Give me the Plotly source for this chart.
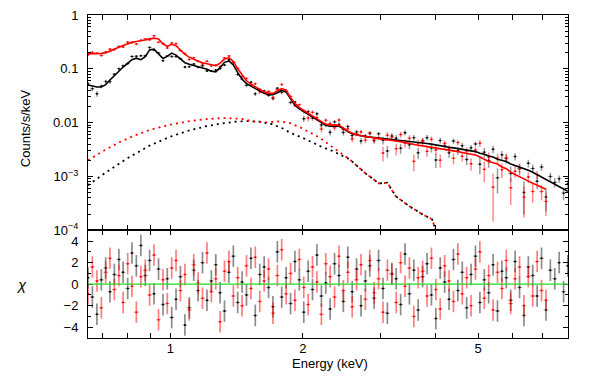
import numpy as np
import plotly.graph_objs as go
from plotly.subplots import make_subplots

# bin centres (keV), shared by both spectra (red stops earlier)
energy = [0.650, 0.665, 0.681, 0.697, 0.713, 0.729, 0.746, 0.764, 0.781, 0.800,
          0.818, 0.837, 0.857, 0.877, 0.897, 0.918, 0.940, 0.962, 0.984, 1.007,
          1.030, 1.054, 1.079, 1.104, 1.130, 1.156, 1.183, 1.211, 1.239, 1.268,
          1.297, 1.327, 1.358, 1.390, 1.422, 1.455, 1.489, 1.524, 1.559, 1.596,
          1.633, 1.671, 1.710, 1.750, 1.790, 1.832, 1.875, 1.918, 1.963, 2.009,
          2.056, 2.103, 2.152, 2.203, 2.254, 2.306, 2.360, 2.415, 2.471, 2.529,
          2.588, 2.648, 2.710, 2.773, 2.837, 2.903, 2.971, 3.040, 3.111, 3.184,
          3.258, 3.334, 3.411, 3.491, 3.572, 3.655, 3.740, 3.828, 3.917, 4.008,
          4.101, 4.197, 4.295, 4.395, 4.497, 4.602, 4.709, 4.819, 4.931, 5.046,
          5.164, 5.284, 5.407, 5.533, 5.662, 5.794, 5.929, 6.067, 6.209, 6.353,
          6.501, 6.653, 6.808, 6.966, 7.129, 7.295, 7.465, 7.639, 7.817, 7.990]

black_model = [0.050, 0.048, 0.046, 0.046, 0.051, 0.062, 0.076, 0.090, 0.108, 0.128,
               0.148, 0.158, 0.148, 0.168, 0.225, 0.232, 0.185, 0.155, 0.170, 0.196,
               0.180, 0.150, 0.130, 0.122, 0.116, 0.110, 0.105, 0.098, 0.090, 0.088,
               0.105, 0.132, 0.140, 0.118, 0.085, 0.064, 0.053, 0.048, 0.043, 0.039,
               0.035, 0.033, 0.033, 0.036, 0.040, 0.037, 0.027, 0.021, 0.018, 0.0160,
               0.0143, 0.0128, 0.0115, 0.0102, 0.0090, 0.0086, 0.0087, 0.0086, 0.0078, 0.0068,
               0.0062, 0.0059, 0.0057, 0.0055, 0.0054, 0.0053, 0.0051, 0.0050, 0.0050, 0.0049,
               0.0048, 0.0047, 0.0046, 0.0045, 0.0044, 0.0043, 0.0042, 0.0041, 0.0040, 0.0039,
               0.0038, 0.0036, 0.0035, 0.0034, 0.0033, 0.0032, 0.0031, 0.0030, 0.0029, 0.0027,
               0.0026, 0.0024, 0.0023, 0.0021, 0.0020, 0.0019, 0.0017, 0.0016, 0.0015, 0.0014,
               0.0013, 0.0012, 0.00108, 0.00098, 0.00088, 0.00078, 0.00070, 0.00063, 0.00058, 0.00053]

black_data = [0.0527, 0.0428, 0.0344, 0.0477, 0.0579, 0.0581, 0.0794, 0.1004, 0.1139, 0.1254,
              0.1695, 0.1714, 0.1746, 0.1747, 0.2498, 0.2226, 0.1967, 0.1417, 0.1738, 0.1687,
              0.1687, 0.1547, 0.1078, 0.1099, 0.1228, 0.1070, 0.1145, 0.0914, 0.0912, 0.0951,
              0.1012, 0.1172, 0.1469, 0.1318, 0.0785, 0.0646, 0.0493, 0.0561, 0.0343, 0.0415,
              0.0389, 0.0323, 0.0282, 0.0436, 0.0366, 0.0386, 0.0236, 0.0241, 0.0185, 0.01184,
              0.01602, 0.01216, 0.01461, 0.00908, 0.00909, 0.00662, 0.01035, 0.00929, 0.00655, 0.0085,
              0.00577, 0.00673, 0.00456, 0.00567, 0.00632, 0.00461, 0.00622, 0.0047, 0.00298, 0.00564,
              0.00516, 0.00336, 0.00653, 0.00389, 0.00526, 0.00275, 0.00464, 0.00527, 0.0034, 0.00203,
              0.00466, 0.00371, 0.00277, 0.00457, 0.003, 0.00373, 0.00208, 0.00341, 0.00403, 0.00169,
              0.00283, 0.00198, 0.00321, 0.000945, 0.00253, 0.00215, 0.00114, 0.00234, 0.0014, 0.000507,
              0.00176, 0.00141, 0.000819, 0.0015, 0.000415, 0.001, 0.000777, 0.000907, 0.000491, 0.000728]

black_err = [0.0045, 0.0043, 0.0041, 0.0041, 0.0046, 0.0056, 0.0038, 0.0045, 0.0054, 0.0064,
             0.0074, 0.0079, 0.0074, 0.0084, 0.0113, 0.0104, 0.0083, 0.0070, 0.0077, 0.0088,
             0.0081, 0.0068, 0.0059, 0.0055, 0.0052, 0.0050, 0.0047, 0.0044, 0.0041, 0.0040,
             0.0047, 0.0059, 0.0063, 0.0053, 0.0038, 0.0029, 0.0037, 0.0034, 0.0030, 0.0027,
             0.0025, 0.0023, 0.0023, 0.0025, 0.0028, 0.0026, 0.0019, 0.0015, 0.0013, 0.0016,
             0.00143, 0.00128, 0.00115, 0.00102, 0.0009, 0.00086, 0.00087, 0.00086, 0.00078, 0.00068,
             0.00062, 0.00059, 0.00057, 0.00055, 0.00054, 0.00053, 0.00051, 0.00075, 0.00075, 0.00074,
             0.00072, 0.00071, 0.00069, 0.00068, 0.00066, 0.00065, 0.00063, 0.00062, 0.0006, 0.00059,
             0.00057, 0.00054, 0.00053, 0.00051, 0.0005, 0.00048, 0.00047, 0.00045, 0.00044, 0.00059,
             0.00057, 0.00053, 0.00051, 0.00046, 0.00044, 0.00042, 0.00037, 0.00035, 0.00033, 0.00031,
             0.00029, 0.00026, 0.00024, 0.00022, 0.00019, 0.00017, 0.00015, 0.00014, 0.00013, 0.00012]

black_chi = [0.6, -1.2, -2.8, 0.4, 1.5, -0.7, 0.9, 2.3, 1.1, -0.4,
             2.9, 1.7, 3.6, 0.8, 2.2, -0.9, 1.4, -1.9, 0.5, -3.1,
             -1.4, 0.7, -3.8, -2.2, 1.3, -0.6, 2.0, -1.5, 0.3, 1.8,
             -0.8, -2.5, 1.1, 2.6, -1.7, 0.2, -1.0, 2.4, -2.9, 0.9,
             1.6, -0.3, -2.1, 3.0, -1.2, 0.6, -1.8, 2.1, 0.4, -2.6,
             1.2, -0.5, 2.7, -1.1, 0.1, -2.3, 1.9, 0.8, -1.6, 2.5,
             -0.7, 1.4, -2.0, 0.3, 1.7, -1.3, 2.2, -0.4, -2.7, 1.0,
             0.5, -1.9, 2.8, -0.9, 1.3, -2.4, 0.7, 1.9, -1.0, -3.2,
             1.5, 0.2, -1.4, 2.3, -0.6, 1.1, -2.2, 0.9, 2.6, -1.7,
             0.4, -0.8, 1.8, -2.5, 1.2, 0.6, -1.5, 2.1, -0.3, -2.9,
             1.6, 0.8, -1.1, 2.4, -2.4, 1.3, 0.5, 2.0, -0.7, 1.7]

red_model = [0.190, 0.190, 0.192, 0.194, 0.198, 0.212, 0.232, 0.252, 0.272, 0.292,
             0.310, 0.322, 0.330, 0.342, 0.360, 0.372, 0.360, 0.290, 0.262, 0.285,
             0.270, 0.225, 0.185, 0.165, 0.150, 0.138, 0.130, 0.124, 0.117, 0.114,
             0.128, 0.152, 0.160, 0.138, 0.100, 0.078, 0.060, 0.052, 0.046, 0.041,
             0.037, 0.035, 0.035, 0.039, 0.043, 0.040, 0.029, 0.023, 0.019, 0.0168,
             0.0150, 0.0134, 0.0121, 0.0106, 0.0093, 0.0090, 0.0091, 0.0089, 0.0080, 0.0069,
             0.0063, 0.0059, 0.0057, 0.0055, 0.0053, 0.0052, 0.0050, 0.0049, 0.0048, 0.0047,
             0.0046, 0.0045, 0.0043, 0.0041, 0.0039, 0.0038, 0.0037, 0.0036, 0.0035, 0.0034,
             0.0033, 0.0032, 0.0031, 0.0030, 0.0029, 0.0028, 0.0027, 0.0026, 0.0025, 0.0023,
             0.0021, 0.0019, 0.0018, 0.0017, 0.0015, 0.0014, 0.0012, 0.0011, 0.0010, 0.00090,
             0.00082, 0.00075, 0.00069, 0.00063, 0.00058]

red_data = [0.1832, 0.2022, 0.1943, 0.1769, 0.2067, 0.2324, 0.2274, 0.2601, 0.2535, 0.3142,
            0.3075, 0.2885, 0.3392, 0.3598, 0.3456, 0.4122, 0.3125, 0.2946, 0.2431, 0.3021,
            0.2938, 0.2196, 0.1917, 0.1492, 0.1608, 0.1386, 0.1232, 0.1384, 0.1137, 0.1163,
            0.1101, 0.1593, 0.1734, 0.1319, 0.1024, 0.0718, 0.0661, 0.0508, 0.0529, 0.0371,
            0.0377, 0.0379, 0.0293, 0.0409, 0.0513, 0.0378, 0.0307, 0.0209, 0.0216, 0.0163,
            0.01215, 0.01554, 0.01234, 0.00763, 0.01107, 0.00963, 0.00801, 0.01121, 0.00752, 0.00766,
            0.00498, 0.00614, 0.00673, 0.00473, 0.00647, 0.00478, 0.00525, 0.00273, 0.00586, 0.00542,
            0.00327, 0.00603, 0.00415, 0.00515, 0.00191, 0.00419, 0.00445, 0.00293, 0.00493, 0.00311,
            0.00201, 0.00413, 0.00326, 0.00218, 0.00428, 0.00237, 0.00298, 0.00172, 0.0031, 0.00416,
            0.00136, 0.00231, 0.000634, 0.0022, 0.00134, 0.00223, 0.000617, 0.00125, 0.00143, 0.000414,
            0.000975, 0.000527, 0.00108, 0.000528, 0.000345]

red_err = [0.0076, 0.0076, 0.0077, 0.0078, 0.0079, 0.0085, 0.0093, 0.0101, 0.0109, 0.0117,
           0.0124, 0.0129, 0.0132, 0.0137, 0.0144, 0.0149, 0.0144, 0.0116, 0.0105, 0.0114,
           0.0108, 0.0090, 0.0074, 0.0066, 0.0060, 0.0055, 0.0052, 0.0050, 0.0047, 0.0046,
           0.0051, 0.0061, 0.0064, 0.0055, 0.0040, 0.0031, 0.0036, 0.0031, 0.0028, 0.0025,
           0.0022, 0.0021, 0.0021, 0.0023, 0.0026, 0.0024, 0.0017, 0.0014, 0.0011, 0.00168,
           0.0015, 0.00134, 0.00121, 0.00106, 0.00093, 0.0009, 0.00091, 0.00089, 0.0008, 0.00069,
           0.00063, 0.00059, 0.00057, 0.00055, 0.00053, 0.00052, 0.0005, 0.00083, 0.00082, 0.0008,
           0.00078, 0.00077, 0.00073, 0.0007, 0.00066, 0.00065, 0.00063, 0.00061, 0.0006, 0.00058,
           0.00056, 0.00054, 0.00053, 0.00051, 0.00049, 0.00048, 0.00046, 0.00044, 0.00043, 0.00062,
           0.00057, 0.00051, 0.00049, 0.00046, 0.00041, 0.00038, 0.00032, 0.0003, 0.00027, 0.00024,
           0.00022, 0.0002, 0.00019, 0.00017, 0.00016]

red_chi = [-0.9, 1.6, 0.3, -2.2, 1.1, 2.4, -0.5, 0.8, -1.7, 1.9,
           -0.2, -2.6, 0.7, 1.3, -1.0, 2.7, -3.3, 0.4, -1.8, 1.5,
           2.2, -0.6, 0.9, -2.4, 1.8, 0.1, -1.3, 2.9, -0.7, 0.5,
           -3.5, 1.2, 2.1, -1.1, 0.6, -2.0, 1.7, -0.4, 2.5, -1.6,
           0.3, 1.4, -2.7, 0.8, 3.2, -0.9, 1.0, -1.5, 2.3, -0.3,
           -1.9, 1.6, 0.2, -2.8, 1.9, 0.7, -1.2, 2.6, -0.6, 1.1,
           -2.1, 0.4, 1.8, -1.4, 2.2, -0.8, 0.5, -2.6, 1.3, 0.9,
           -1.7, 2.0, -0.2, 1.5, -3.0, 0.6, 1.2, -1.1, 2.4, -0.5,
           -2.3, 1.7, 0.3, -1.6, 2.8, -0.9, 0.6, -2.0, 1.4, 3.0,
           -1.3, 0.8, -2.4, 1.1, -0.4, 2.2, -1.8, 0.5, 1.6, -2.0,
           0.7, -1.1, 2.1, -0.6, -1.5]

# additive model components (dotted)
comp_red_energy = [0.65, 0.70, 0.76, 0.83, 0.90, 1.0, 1.1, 1.2, 1.32, 1.45, 1.55, 1.65, 1.77, 1.87,
                   1.97, 2.08, 2.18, 2.36, 2.55, 2.78, 2.98, 3.11, 3.25, 3.49, 3.73, 3.93, 4.0]
comp_red = [0.0020, 0.0029, 0.0042, 0.0058, 0.0074, 0.0092, 0.0106, 0.0116, 0.0122, 0.0118, 0.0105,
            0.0101, 0.0106, 0.0098, 0.0082, 0.0066, 0.0053, 0.0033, 0.0021, 0.00113, 0.00074, 0.00077,
            0.00043, 0.00028, 0.0002, 0.00016, 0.000105]
comp_black_energy = [0.65, 0.72, 0.80, 0.90, 1.0, 1.1, 1.2, 1.3, 1.4, 1.49, 1.6, 1.7, 1.8, 1.87,
                     2.0, 2.1, 2.2, 2.33, 2.55, 2.78, 2.98, 3.11, 3.25, 3.49, 3.73, 3.93, 4.0]
comp_black = [0.00069, 0.00125, 0.0022, 0.0038, 0.0055, 0.0071, 0.0085, 0.0096, 0.0104, 0.0107, 0.0104,
              0.0094, 0.0078, 0.0065, 0.0052, 0.0043, 0.0036, 0.0030, 0.0021, 0.00113, 0.00074, 0.00077,
              0.00043, 0.00028, 0.0002, 0.00016, 0.000105]

x_ticks = [0.7, 0.8, 0.9, 1, 2, 3, 4, 5, 6, 7]
x_ticktext = ['', '', '', '1', '2', '', '', '5', '', '']
y_ticks = [1e-4, 1e-3, 1e-2, 0.1, 1]
y_ticktext = ['10<sup>\u22124</sup>', '10<sup>\u22123</sup>', '0.01', '0.1', '1']

FONT = 'Liberation Sans, Arial, sans-serif'


def bin_half_widths(e):
    e = np.asarray(e, dtype=float)
    edges = np.sqrt(e[1:] * e[:-1])
    lo = np.concatenate([[e[0] ** 2 / edges[0]], edges])
    hi = np.concatenate([edges, [e[-1] ** 2 / edges[-1]]])
    return list(e - lo), list(hi - e)


def data_trace(e, y, err, color, bar_color, chi=False):
    minus, plus = bin_half_widths(e)
    if chi:
        ey = dict(type='constant', value=1, color=bar_color, thickness=1.7, width=0)
    else:
        ey = dict(type='data', array=err, color=bar_color, thickness=1.5, width=0)
    return go.Scatter(x=e, y=y, mode='markers',
                      marker=dict(size=2, color=color),
                      error_y=ey,
                      error_x=dict(type='data', array=plus, arrayminus=minus,
                                   color=bar_color, thickness=1.0, width=0),
                      showlegend=False, hoverinfo='skip')


n_red = len(red_model)
red_energy = energy[:n_red]

fig = make_subplots(rows=2, cols=1, shared_xaxes=True, row_heights=[2, 1], vertical_spacing=0)

fig.add_trace(data_trace(energy, black_data, black_err, 'black', 'rgba(0,0,0,0.4)'), row=1, col=1)
fig.add_trace(data_trace(red_energy, red_data, red_err, 'red', 'rgba(255,0,0,0.45)'), row=1, col=1)
fig.add_trace(go.Scatter(x=energy, y=black_model, mode='lines', line=dict(color='black', width=1.6),
                         showlegend=False), row=1, col=1)
fig.add_trace(go.Scatter(x=red_energy, y=red_model, mode='lines', line=dict(color='red', width=1.6),
                         showlegend=False), row=1, col=1)
fig.add_trace(go.Scatter(x=comp_black_energy, y=comp_black, mode='lines',
                         line=dict(color='black', width=1.8, dash='2px,4px'), showlegend=False), row=1, col=1)
fig.add_trace(go.Scatter(x=comp_red_energy, y=comp_red, mode='lines',
                         line=dict(color='red', width=1.8, dash='2px,4px'), showlegend=False), row=1, col=1)

fig.add_trace(data_trace(energy, black_chi, None, 'black', 'rgba(0,0,0,0.45)', chi=True), row=2, col=1)
fig.add_trace(data_trace(red_energy, red_chi, None, 'red', 'rgba(255,0,0,0.5)', chi=True), row=2, col=1)
fig.add_hline(y=0, line=dict(color='#22dd22', width=1.3), row=2, col=1)

axis_common = dict(showline=True, linecolor='black', linewidth=1, mirror='allticks', ticks='inside',
                   tickcolor='black', showgrid=False, zeroline=False,
                   tickfont=dict(family=FONT, size=13, color='black'))
x_range = [np.log10(0.65), np.log10(8.0)]

fig.update_xaxes(type='log', range=x_range, tickvals=x_ticks, ticktext=x_ticktext, ticklen=5,
                 ticklabelstandoff=-2, **axis_common)
fig.update_xaxes(showticklabels=False, row=1, col=1)
fig.update_yaxes(type='log', range=[-4, 0], tickvals=y_ticks, ticktext=y_ticktext, ticklen=5,
                 ticklabelstandoff=6,
                 minor=dict(tickvals=[m * 10.0 ** d for d in range(-4, 0) for m in range(2, 10)],
                            ticklen=3, ticks='inside', tickcolor='black', showgrid=False),
                 row=1, col=1, **axis_common)
fig.update_yaxes(range=[-5, 5], tickvals=[-4, -2, 0, 2, 4], ticklen=5, ticklabelstandoff=6,
                 minor=dict(dtick=1, ticklen=3, ticks='inside', tickcolor='black', showgrid=False),
                 row=2, col=1, **axis_common)

fig.update_layout(
    width=598, height=380,
    margin=dict(l=88, r=30, t=8, b=42),
    plot_bgcolor='white', paper_bgcolor='white',
    showlegend=False,
    font=dict(family=FONT, size=13, color='black'),
    annotations=[
        dict(text='Counts/s/keV', x=-0.131, y=0.65, xref='paper', yref='paper', showarrow=False,
             textangle=-90, font=dict(size=13), xanchor='center', yanchor='middle'),
        dict(text='<i>\u03c7</i>', x=-0.138, y=0.167, xref='paper', yref='paper', showarrow=False,
             font=dict(size=15), xanchor='center', yanchor='middle'),
        dict(text='Energy (keV)', x=0.504, y=-0.078, xref='paper', yref='paper', showarrow=False,
             font=dict(size=13), xanchor='center', yanchor='middle'),
    ],
)

# drop the default page margin so the figure sits at the window origin
fig.write_html("out.html", config={'displayModeBar': False},
               post_script="document.body.style.margin='0';")
